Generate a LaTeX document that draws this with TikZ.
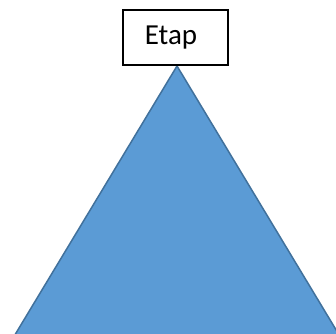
\documentclass[tikz,border=0pt]{standalone}
\usepackage{fontspec}
\setmainfont{Carlito}
\usepackage{xcolor}
\definecolor{pyrfill}{HTML}{5B9BD5}
\definecolor{pyrline}{HTML}{41719C}

\begin{document}
\begin{tikzpicture}[x=1pt,y=1pt,
    etapbox/.style={draw=black,line width=1.3pt,fill=white,minimum width=105pt,minimum height=55pt,inner sep=0pt,font=\fontsize{29}{32}\selectfont}]
  \useasboundingbox (0,0) rectangle (336,333);
  \clip (0,0) rectangle (336,333);
  % piramida
  \coordinate (apex) at (177,267);
  \coordinate (baseL) at (10,-10);
  \coordinate (baseR) at (344,-10);
  \filldraw[fill=pyrfill,draw=pyrline,line width=1.5pt,line join=miter]
    (apex) -- (baseR) -- (baseL) -- cycle;
  % etykieta
  \node[etapbox] (etap) at (175.5,295.5) {\hspace*{-9pt}\raisebox{-3pt}{Etap}};
\end{tikzpicture}
\end{document}
